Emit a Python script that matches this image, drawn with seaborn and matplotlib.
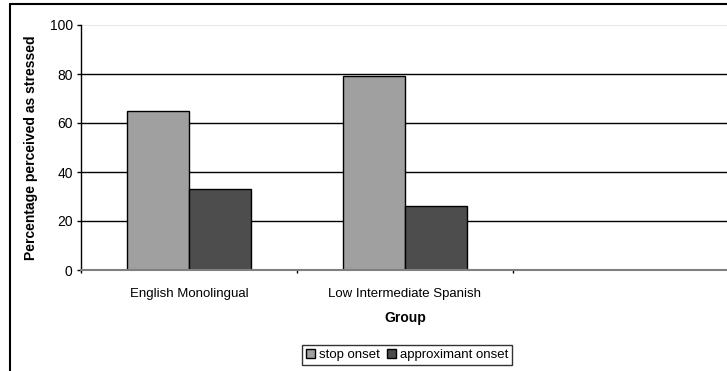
import pandas as pd
import matplotlib
matplotlib.use("Agg")
import matplotlib.pyplot as plt
from matplotlib.lines import Line2D
import seaborn as sns

# chart data
groupNames = ["English Monolingual", "Low Intermediate Spanish"]
onsetTypes = ["stop onset", "approximant onset"]
stopValues = [65, 79]
approximantValues = [33, 26]
yTicks = [0, 20, 40, 60, 80, 100]

barColors = ["#A0A0A0", "#4D4D4D"]

dataFrame = pd.DataFrame({
    "Group" : groupNames * 2,
    "Onset" : [onsetTypes[0]] * len(groupNames) + [onsetTypes[1]] * len(groupNames),
    "Percentage" : stopValues + approximantValues
})

sns.set_theme(style = "white")
plt.rcParams["font.family"] = ["Liberation Sans", "DejaVu Sans"]
plt.rcParams["text.color"] = "black"
plt.rcParams["axes.labelcolor"] = "black"
plt.rcParams["xtick.color"] = "black"
plt.rcParams["ytick.color"] = "black"

fig = plt.figure(figsize = (7.27, 3.71), dpi = 100)
ax = fig.add_axes([81 / 727, 1 - 270 / 371, 648 / 727, 245 / 371])

sns.barplot(
    data = dataFrame,
    x = "Group",
    y = "Percentage",
    hue = "Onset",
    order = groupNames,
    hue_order = onsetTypes,
    palette = barColors,
    width = 0.575,
    edgecolor = "black",
    linewidth = 1,
    saturation = 1,
    errorbar = None,
    ax = ax
)

ax.set_xlim(-0.5, 2.5)
ax.set_ylim(0, 100)
ax.set_yticks(yTicks)
ax.set_yticklabels([str(v) for v in yTicks], fontsize = 10)

# gridlines: black for inner values, faint at the top
for yValue in yTicks[1:-1] :
    ax.axhline(yValue, color = "black", linewidth = 1, zorder = 0)
ax.axhline(100, color = "#E8E8E8", linewidth = 1.5, zorder = 0)

ax.set_xticks([0, 1])
ax.set_xticklabels(groupNames, fontsize = 9.5)
ax.tick_params(axis = "x", which = "major", length = 0, pad = 13)
ax.set_xticks([-0.5, 0.5, 1.5, 2.5], minor = True)
ax.tick_params(axis = "x", which = "minor", bottom = True, length = 2.5, width = 1,
               color = "black", direction = "out")
ax.tick_params(axis = "y", length = 3, width = 1, color = "black", direction = "out",
               pad = 3, left = True)

for side in ["top", "right"] :
    ax.spines[side].set_visible(False)
ax.spines["left"].set_color("black")
ax.spines["left"].set_linewidth(1)
ax.spines["bottom"].set_color("#808080")
ax.spines["bottom"].set_linewidth(1.5)

ax.set_ylabel("Percentage perceived as stressed", fontsize = 10, fontweight = "bold")
ax.yaxis.set_label_coords(-0.066, 0.5)
ax.set_xlabel("Group", fontsize = 10, fontweight = "bold")
ax.xaxis.set_label_coords(0.5, -0.168)

ax.legend_.remove()
legendHandles, legendLabels = ax.get_legend_handles_labels()
legendObject = fig.legend(
    legendHandles,
    legendLabels,
    loc = "center",
    bbox_to_anchor = (407 / 727, 1 - 355 / 371),
    ncol = 2,
    fontsize = 9.5,
    frameon = True,
    fancybox = False,
    handlelength = 0.7,
    handleheight = 0.7,
    handletextpad = 0.3,
    columnspacing = 0.5,
    borderpad = 0.3,
    borderaxespad = 0
)
legendObject.get_frame().set_edgecolor("black")
legendObject.get_frame().set_linewidth(1)
for patchObject in legendObject.get_patches() :
    patchObject.set_edgecolor("black")

# chart border (left and top edges only visible in the crop)
fig.add_artist(Line2D([10 / 727, 10 / 727], [0, 1 - 4 / 371], color = "black", linewidth = 1.5))
fig.add_artist(Line2D([10 / 727, 1], [1 - 4 / 371, 1 - 4 / 371], color = "black", linewidth = 1.5))

fig.savefig("out.png", dpi = 100)
